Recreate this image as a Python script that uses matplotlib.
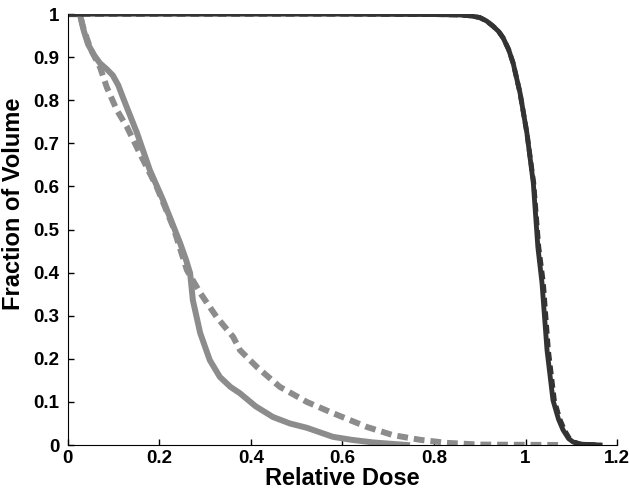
import matplotlib
matplotlib.use("Agg")
import matplotlib.pyplot as plt

# dark curves (target)
dark_solid_x = [0.0, 0.60, 0.80, 0.857, 0.88, 0.90, 0.915, 0.929, 0.941, 0.951, 0.963, 0.973,
                0.988, 1.003, 1.017, 1.027, 1.036, 1.047, 1.060, 1.072, 1.082, 1.094, 1.104,
                1.12, 1.163]
dark_solid_y = [1.0, 1.0, 0.999, 0.998, 0.996, 0.992, 0.984, 0.972, 0.96, 0.945, 0.918, 0.886,
                0.817, 0.724, 0.608, 0.459, 0.376, 0.22, 0.104, 0.06, 0.035, 0.015, 0.007,
                0.002, 0.0]
dark_dash_x = [0.0, 0.60, 0.80, 0.857, 0.88, 0.90, 0.915, 0.929, 0.941, 0.951, 0.963, 0.973,
               0.988, 1.003, 1.018, 1.029, 1.039, 1.050, 1.063, 1.075, 1.085, 1.096, 1.106,
               1.12, 1.165]
dark_dash_y = [1.0, 1.0, 0.999, 0.998, 0.996, 0.992, 0.984, 0.972, 0.96, 0.945, 0.918, 0.886,
               0.817, 0.724, 0.608, 0.459, 0.376, 0.22, 0.104, 0.06, 0.035, 0.015, 0.007,
               0.002, 0.0]

# gray curves (normal tissue)
gray_solid_x = [0.0, 0.026, 0.035, 0.044, 0.057, 0.070, 0.085, 0.098, 0.11, 0.12, 0.151, 0.179,
                0.208, 0.245, 0.258, 0.267, 0.273, 0.289, 0.31, 0.332, 0.355, 0.376, 0.41,
                0.448, 0.485, 0.522, 0.579, 0.62, 0.667, 0.741]
gray_solid_y = [1.0, 1.0, 0.96, 0.93, 0.905, 0.886, 0.872, 0.858, 0.835, 0.807, 0.724, 0.638,
                0.568, 0.469, 0.43, 0.399, 0.336, 0.26, 0.197, 0.158, 0.135, 0.12, 0.09,
                0.065, 0.05, 0.04, 0.019, 0.012, 0.006, 0.0]
gray_dash_x = [0.0, 0.026, 0.033, 0.049, 0.070, 0.085, 0.107, 0.129, 0.157, 0.194, 0.23, 0.26,
               0.289, 0.325, 0.361, 0.376, 0.413, 0.463, 0.522, 0.579, 0.653, 0.71, 0.77,
               0.828, 0.9, 1.08]
gray_dash_y = [1.0, 1.0, 0.97, 0.92, 0.877, 0.83, 0.777, 0.738, 0.677, 0.599, 0.506, 0.406,
               0.353, 0.297, 0.251, 0.22, 0.181, 0.135, 0.10, 0.074, 0.042, 0.023, 0.012,
               0.005, 0.001, 0.0]

x_ticks = [0, 0.2, 0.4, 0.6, 0.8, 1, 1.2]
x_tick_labels = ["0", "0.2", "0.4", "0.6", "0.8", "1", "1.2"]
y_ticks = [0, 0.1, 0.2, 0.3, 0.4, 0.5, 0.6, 0.7, 0.8, 0.9, 1]
y_tick_labels = ["0", "0.1", "0.2", "0.3", "0.4", "0.5", "0.6", "0.7", "0.8", "0.9", "1"]

plt.rcParams['font.family'] = ['Liberation Sans', 'DejaVu Sans']
plt.rcParams['font.weight'] = 'bold'

fig = plt.figure(figsize=(6.29, 4.97), dpi=100)
ax = fig.add_axes([0.108, 0.1046, 0.873, 0.867])

gray = '#8c8c8c'
dark = '#333333'
ax.plot(gray_dash_x, gray_dash_y, color=gray, lw=4.3, linestyle=(0, (1.8, 1.0)))
ax.plot(gray_solid_x, gray_solid_y, color=gray, lw=4.3)
ax.plot(dark_dash_x, dark_dash_y, color=dark, lw=3.5, linestyle=(0, (1.8, 1.0)))
ax.plot(dark_solid_x, dark_solid_y, color=dark, lw=3.5)

ax.set_xlim(0, 1.2)
ax.set_ylim(0, 1)
ax.set_xticks(x_ticks)
ax.set_xticklabels(x_tick_labels)
ax.set_yticks(y_ticks)
ax.set_yticklabels(y_tick_labels)
ax.tick_params(direction='in', length=4, labelsize=13.5, width=1)
ax.tick_params(axis='y', pad=6)
for lab in ax.get_xticklabels() + ax.get_yticklabels():
    lab.set_fontweight('bold')
ax.spines['top'].set_visible(False)
ax.spines['right'].set_visible(False)

ax.set_xlabel('Relative Dose', fontsize=17, fontweight='bold', labelpad=0)
ax.set_ylabel('Fraction of Volume', fontsize=17, fontweight='bold')
ax.yaxis.set_label_coords(-0.078, 0.56)

fig.savefig('out.png', dpi=100)
